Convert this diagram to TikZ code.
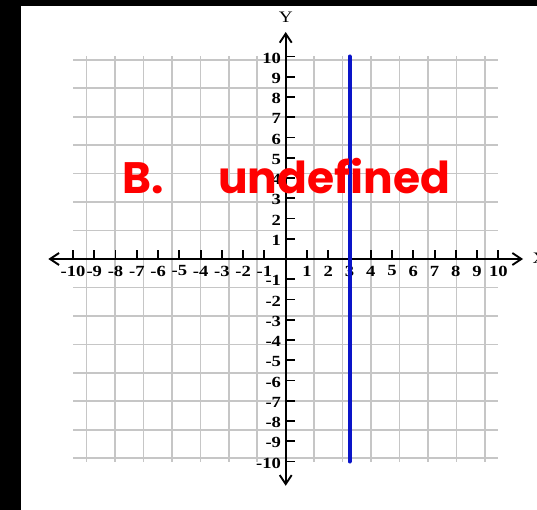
\documentclass[tikz,border=0pt]{standalone}
\usepackage{fontspec}
\usetikzlibrary{arrows.meta}
\newfontfamily\labfont[FakeStretch=1.2]{Liberation Serif}
\newfontfamily\redfont{Poppins}
\definecolor{gridgray}{RGB}{198,198,198}
\definecolor{lineblue}{RGB}{10,20,200}
\tikzset{
  gridline/.style={draw=gridgray, line width=1.6pt},
  axisline/.style={draw=black, line width=1.9pt, {Straight Barb[length=9pt,width=12pt,line width=1.9pt]}-{Straight Barb[length=9pt,width=12pt,line width=1.9pt]}},
  tickline/.style={draw=black, line width=1.9pt},
  xlab/.style={font=\labfont\bfseries\fontsize{15.5}{15.5}\selectfont, inner sep=0pt, anchor=center, yshift=-12pt},
  ylab/.style={font=\labfont\bfseries\fontsize{15.5}{15.5}\selectfont, inner sep=0pt, anchor=east, xshift=-4.5pt, yshift=-1.5pt},
  axname/.style={font=\labfont\fontsize{16}{16}\selectfont, inner sep=0pt},
  bluegraph/.style={draw=lineblue, line width=4pt, line cap=round},
  redtext/.style={font=\redfont\bfseries\fontsize{44}{44}\selectfont, text=red, inner sep=0pt, anchor=base west}
}
\begin{document}
\begin{tikzpicture}[x=1pt,y=-1pt]
\useasboundingbox (0,0) rectangle (537,510);
\fill[white] (0,0) rectangle (537,510);
\fill[black] (0,0) rectangle (21,510);
\fill[black] (0,0) rectangle (537,6);
\begin{scope}[shift={(285.7,259)}, x=21.27pt, y=20.25pt]
  \draw[gridline] (-10,-10) grid (10,10);
  \coordinate (xl) at (-11.16,0);
  \coordinate (xr) at (11.16,0);
  \coordinate (yt) at (0,11.21);
  \coordinate (yb) at (0,-11.2);
  \draw[axisline] (xl) -- (xr);
  \draw[axisline] (yb) -- (yt);
  \foreach \v in {-10,...,-1,1,2,...,10} {
    \coordinate (tx\v) at (\v,0);
    \coordinate (ty\v) at (0,\v);
    \draw[tickline] (tx\v) -- ++(0,9pt);
    \draw[tickline] (ty\v) -- ++(9pt,0);
    \node[xlab] (lx\v) at (tx\v) {\v};
    \node[ylab] (ly\v) at (ty\v) {\v};
  }
  \node[axname] (ylabel) at (0,11.93) {Y};
  \node[axname] (xlabel) at (11.93,0.05) {X};
  \coordinate (btop) at (3,10);
  \coordinate (bbot) at (3,-10);
  \draw[bluegraph] (btop) -- (bbot);
  \node[redtext] (bopt) at (-7.70,3.21) {B.};
  \node[redtext] (undef) at (-3.18,3.21) {undefined};
\end{scope}
\end{tikzpicture}
\end{document}
